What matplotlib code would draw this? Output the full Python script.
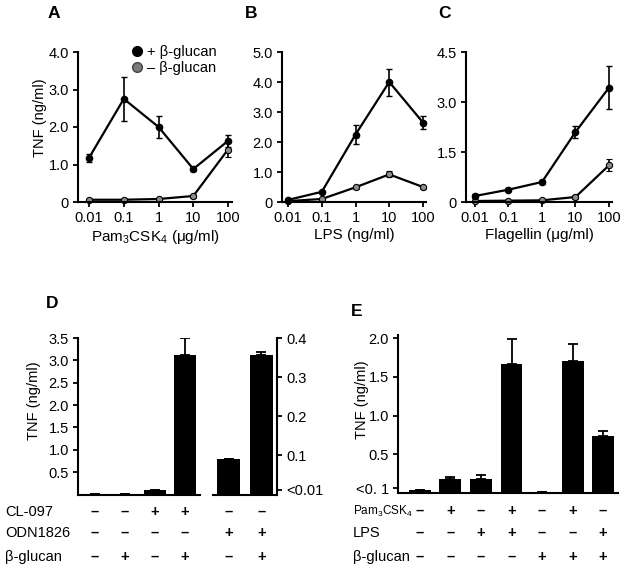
import numpy as np
import matplotlib.pyplot as plt
import matplotlib.transforms as mtransforms
from matplotlib.lines import Line2D

plt.rcParams['font.family'] = ['Liberation Sans', 'DejaVu Sans']
plt.rcParams['mathtext.fontset'] = 'custom'
plt.rcParams['mathtext.rm'] = 'Liberation Sans'
plt.rcParams['font.size'] = 10.5

# dosis (eje x de A, B, C)
conc = [0.01, 0.1, 1, 10, 100]
conc_labels = ["0.01", "0.1", "1", "10", "100"]

# A: Pam3CSK4
a_plus = [1.18, 2.75, 2.0, 0.88, 1.63]
a_plus_err = [0.1, 0.58, 0.3, 0.04, 0.17]
a_minus = [0.06, 0.06, 0.08, 0.16, 1.4]
a_minus_err = [0.02, 0.02, 0.02, 0.04, 0.2]

# B: LPS
b_plus = [0.07, 0.34, 2.25, 4.0, 2.65]
b_plus_err = [0.03, 0.04, 0.33, 0.45, 0.23]
b_minus = [0.03, 0.1, 0.49, 0.92, 0.5]
b_minus_err = [0.01, 0.02, 0.04, 0.1, 0.05]

# C: Flagelina
c_plus = [0.18, 0.37, 0.6, 2.1, 3.43]
c_plus_err = [0.05, 0.05, 0.05, 0.18, 0.65]
c_minus = [0.03, 0.04, 0.05, 0.15, 1.1]
c_minus_err = [0.01, 0.01, 0.02, 0.05, 0.18]

# D: barras (eje izquierdo y eje derecho)
d_left = [0.02, 0.02, 0.1, 3.11]
d_left_err = [0.0, 0.0, 0.01, 0.39]
d_right = [0.09, 0.356]
d_right_err = [0.0, 0.007]
d_rows = ["CL-097", "ODN1826", "β-glucan"]
d_signs = ["––++––", "––––++", "–+–+–+"]

# E: barras
e_vals = [0.035, 0.185, 0.185, 1.67, 0.01, 1.71, 0.74]
e_err = [0.01, 0.025, 0.047, 0.32, 0.0, 0.22, 0.065]
e_rows = ["Pam$_\\mathregular{3}$CSK$_\\mathregular{4}$", "LPS", "β-glucan"]
e_signs = ["–+–+–+–", "––++––+", "––––+++"]

W, H = 630, 574
fig = plt.figure(figsize=(W / 100, H / 100), dpi=100)


def px(l, t, w, h):
    return [l / W, 1 - (t + h) / H, w / W, h / H]


def estilo(ax, lados=('left', 'bottom')):
    for s in ['left', 'right', 'top', 'bottom']:
        if s in lados:
            ax.spines[s].set_linewidth(1.5)
        else:
            ax.spines[s].set_visible(False)
    ax.tick_params(which='major', length=3.5, width=1.3, pad=3)
    ax.tick_params(which='minor', length=2, width=1)


def curva(ax, plus, plus_err, minus, minus_err, xlim, ylim, yticks, ylabels, xlabel):
    ax.errorbar(conc, minus, yerr=minus_err, color='black', lw=1.6, marker='o', ms=4.5,
                mfc='#8c8c8c', mec='black', mew=0.8, capsize=2.5, elinewidth=1.2, clip_on=False)
    ax.errorbar(conc, plus, yerr=plus_err, color='black', lw=1.6, marker='o', ms=4.5,
                mfc='black', mec='black', capsize=2.5, elinewidth=1.2, clip_on=False)
    ax.set_xscale('log')
    ax.set_xlim(xlim)
    ax.set_ylim(ylim)
    ax.set_xticks(conc)
    ax.set_xticklabels(conc_labels)
    ax.set_yticks(yticks)
    ax.set_yticklabels(ylabels)
    ax.set_xlabel(xlabel, labelpad=2, fontsize=11)
    estilo(ax)
    ax.tick_params(axis='x', which='minor', direction='out')


axA = fig.add_axes(px(78, 52, 154, 150))
curva(axA, a_plus, a_plus_err, a_minus, a_minus_err, (0.0048, 130), (0, 4),
      [0, 1, 2, 3, 4], ["0", "1.0", "2.0", "3.0", "4.0"],
      "Pam$_\\mathregular{3}$CSK$_\\mathregular{4}$ (μg/ml)")
axA.set_ylabel("TNF (ng/ml)")
axA.yaxis.set_label_coords(-0.2, 0.56)

axB = fig.add_axes(px(282, 52, 144, 150))
curva(axB, b_plus, b_plus_err, b_minus, b_minus_err, (0.0066, 123), (0, 5),
      [0, 1, 2, 3, 4, 5], ["0", "1.0", "2.0", "3.0", "4.0", "5.0"], "LPS (ng/ml)")

axC = fig.add_axes(px(466, 52, 146, 150))
curva(axC, c_plus, c_plus_err, c_minus, c_minus_err, (0.0054, 123), (0, 4.5),
      [0, 1.5, 3.0, 4.5], ["0", "1.5", "3.0", "4.5"], "Flagellin (μg/ml)")

# leyenda
handles = [Line2D([], [], ls='none', marker='o', ms=7, mfc='black', mec='black'),
           Line2D([], [], ls='none', marker='o', ms=7, mfc='#7a7a7a', mec='#444444')]
fig.legend(handles, ["+ β-glucan", "– β-glucan"], loc='upper left',
           bbox_to_anchor=(131 / W, 1 - 45 / H), frameon=False, handlelength=0.8,
           handletextpad=0.3, labelspacing=0.15, borderpad=0, borderaxespad=0)

# D
bar_kw = dict(color='black', capsize=3.5, error_kw=dict(elinewidth=1.3, capthick=1.3))
axD1 = fig.add_axes(px(78, 338, 122, 156.5))
xd1 = np.arange(len(d_left))
axD1.bar(xd1, d_left, 0.73, yerr=[np.zeros(len(d_left)), d_left_err], **bar_kw)
axD1.set_xlim(-0.567, 3.5)
axD1.set_ylim(0, 3.5)
axD1.set_yticks([0.5, 1.0, 1.5, 2.0, 2.5, 3.0, 3.5])
axD1.set_yticklabels(["0.5", "1.0", "1.5", "2.0", "2.5", "3.0", "3.5"])
axD1.set_xticks([])
axD1.set_ylabel("TNF (ng/ml)")
axD1.yaxis.set_label_coords(-0.3, 0.6)
estilo(axD1)

axD2 = fig.add_axes(px(213, 338, 64, 156.5))
xd2 = np.arange(len(d_right))
axD2.bar(xd2, d_right, 0.67, yerr=[np.zeros(len(d_right)), d_right_err], **bar_kw)
axD2.set_xlim(-0.47, 1.47)
axD2.set_ylim(0, 0.4)
axD2.yaxis.tick_right()
axD2.set_yticks([0.012, 0.1, 0.2, 0.3, 0.4])
axD2.set_yticklabels(["<0.01", "0.1", "0.2", "0.3", "0.4"])
axD2.set_xticks([])
estilo(axD2, ('right', 'bottom'))

# E
axE = fig.add_axes(px(398, 335, 220, 158))
xe = np.arange(len(e_vals))
axE.bar(xe, e_vals, 0.72, yerr=[np.zeros(len(e_vals)), e_err], **bar_kw)
axE.set_xlim(-0.72, 6.49)
axE.set_ylim(0, 2.04)
axE.set_yticks([0.06, 0.5, 1.0, 1.5, 2.0])
axE.set_yticklabels(["<0. 1", "0.5", "1.0", "1.5", "2.0"])
axE.set_xticks([])
axE.set_ylabel("TNF (ng/ml)")
axE.yaxis.set_label_coords(-0.13, 0.59)
estilo(axE)

# tablas de +/-
d_row_y = [512, 533, 557]
e_row_y = [511, 533, 557]
trD1 = mtransforms.blended_transform_factory(axD1.transData, fig.transFigure)
trD2 = mtransforms.blended_transform_factory(axD2.transData, fig.transFigure)
trE = mtransforms.blended_transform_factory(axE.transData, fig.transFigure)
for row, signs, y in zip(d_rows, d_signs, d_row_y):
    fig.text(5 / W, 1 - y / H, row, ha='left', va='center')
    for i, s in enumerate(signs):
        if i < 4:
            axD1.text(xd1[i], 1 - y / H, s, transform=trD1, ha='center', va='center', fontweight='bold')
        else:
            axD2.text(xd2[i - 4], 1 - y / H, s, transform=trD2, ha='center', va='center', fontweight='bold')
for k, (row, signs, y) in enumerate(zip(e_rows, e_signs, e_row_y)):
    fig.text(353 / W, 1 - y / H, row, ha='left', va='center', fontsize=8.5 if k == 0 else 10.5)
    for i, s in enumerate(signs):
        axE.text(xe[i], 1 - y / H, s, transform=trE, ha='center', va='center', fontweight='bold')

# letras de panel
for letra, x, y in [("A", 54, 14), ("B", 251, 14), ("C", 444, 14), ("D", 52, 304), ("E", 357, 311)]:
    fig.text(x / W, 1 - y / H, letra, ha='center', va='center', fontsize=12.5, fontweight='bold')

fig.savefig("out.png", dpi=100)
